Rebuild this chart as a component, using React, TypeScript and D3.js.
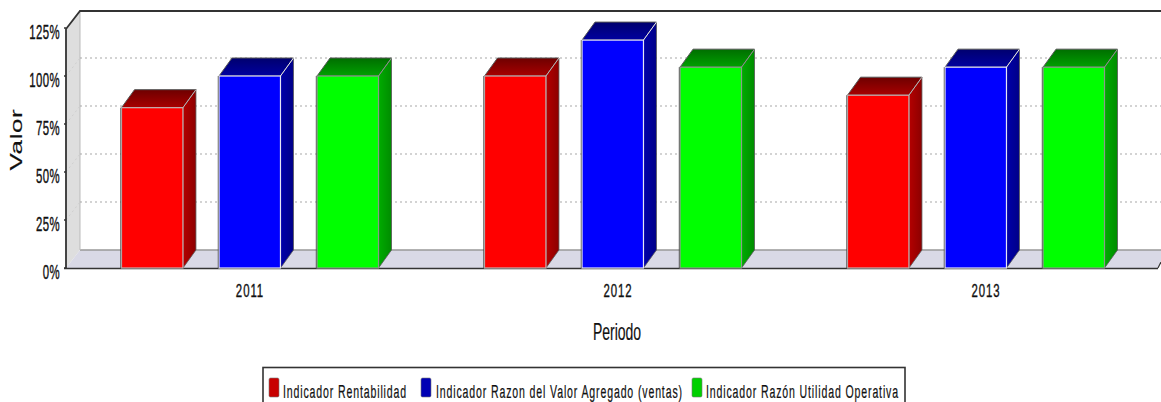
import React from "react";
import * as d3 from "d3";

const periods = ["2011", "2012", "2013"];
const seriesNames = [
  "Indicador Rentabilidad",
  "Indicador Razon del Valor Agregado (ventas)",
  "Indicador Razón Utilidad Operativa",
];
const rentabilidad = [83.5, 100, 90];
const valorAgregado = [100, 118.7, 104.6];
const utilidadOperativa = [100, 104.6, 104.6];
const yTicks = [0, 25, 50, 75, 100, 125];
const faceColors = ["#ff0000", "#0000ff", "#00ff00"];
const sideLight = ["#b40000", "#0000aa", "#00ac00"];
const sideDark = ["#8c0000", "#000088", "#008c00"];
const topLight = ["#a80000", "#0000a0", "#00a000"];
const topDark = ["#6e0000", "#00006e", "#006e00"];
const edgeColors = ["#c4b4b4", "#e6e6f4", "#8a9a8a"];
const legendColors = ["#c80000", "#0000b4", "#00d000"];

const WIDTH = 1161;
const HEIGHT = 402;
const DEPTH_X = 13;
const DEPTH_Y = 18;
const FONT = "'Liberation Sans', Arial, sans-serif";

const y = d3.scaleLinear().domain([0, 125]).range([268, 28]);
// Groups of bars and their labels sit on slightly different spacings in the 3D layout.
const xLabel = d3.scalePoint().domain(periods).range([250, 986]);
const xBar = d3.scaleBand().domain(["0", "1", "2"]).range([121.5, 378]).paddingInner(0.37);
const seriesValues = [rentabilidad, valorAgregado, utilidadOperativa];
const groupStep = 363;

function Squeezed({ x, y: ty, sx, sy, size = 12, anchor = "middle", rotate = 0, spacing = 0, weight = 0.25, children }: any) {
  return (
    <text
      transform={`translate(${x},${ty}) rotate(${rotate}) scale(${sx},${sy})`}
      textAnchor={anchor}
      fontFamily={FONT}
      fontSize={size}
      fill="#111"
      stroke="#111"
      strokeWidth={weight}
      letterSpacing={spacing}
    >
      {children}
    </text>
  );
}

function Bar({ x, w, v, s }: { x: number; w: number; v: number; s: number }) {
  const top = y(v);
  const bottom = y(0);
  const right = x + w;
  const poly = (pts: number[][]) => pts.map((p) => p.join(",")).join(" ");
  return (
    <g>
      <polygon
        points={poly([[x, top], [x + DEPTH_X, top - DEPTH_Y], [right + DEPTH_X, top - DEPTH_Y], [right, top]])}
        fill={`url(#top-${s})`}
        stroke="#555"
        strokeWidth={1}
      />
      <polygon
        points={poly([[right, top], [right + DEPTH_X, top - DEPTH_Y], [right + DEPTH_X, bottom - DEPTH_Y], [right, bottom]])}
        fill={`url(#side-${s})`}
        stroke="#555"
        strokeWidth={0.8}
      />
      <line x1={right} x2={right + DEPTH_X} y1={top} y2={top - DEPTH_Y} stroke={edgeColors[s]} strokeWidth={1} />
      <rect x={x} y={top} width={w} height={bottom - top} fill={faceColors[s]} stroke={edgeColors[s]} strokeWidth={1.2} />
      <line x1={x - 0.8} x2={x - 0.8} y1={top} y2={bottom} stroke="#444" strokeWidth={0.8} />
    </g>
  );
}

export default function App() {
  const floorY = y(0) - DEPTH_Y;
  const left = 66;
  const back = left + DEPTH_X + 1;
  const legendStarts = [283, 436, 706];
  const swatchStarts = [269, 421, 692];
  return (
    <svg
      width={WIDTH}
      height={HEIGHT}
      style={{ position: "absolute", left: 0, top: 0, background: "#fff" }}
    >
      <defs>
        {faceColors.map((_, s) => (
          <React.Fragment key={s}>
            <linearGradient id={`top-${s}`} x1="0" y1="1" x2="0" y2="0">
              <stop offset="0" stopColor={topLight[s]} />
              <stop offset="1" stopColor={topDark[s]} />
            </linearGradient>
            <linearGradient id={`side-${s}`} x1="0" y1="0" x2="1" y2="0">
              <stop offset="0" stopColor={sideLight[s]} />
              <stop offset="1" stopColor={sideDark[s]} />
            </linearGradient>
          </React.Fragment>
        ))}
      </defs>

      {/* side wall and floor of the plot box */}
      <polygon
        points={`${left},${y(125) + 1} ${back},${y(125) - DEPTH_Y + 1} ${back},${floorY} ${left},${y(0)}`}
        fill="#dedede"
      />
      <polygon
        points={`${left},${y(0)} ${back},${floorY} ${WIDTH + 4},${floorY} ${WIDTH - 3},${y(0)}`}
        fill="#d9d9e6"
      />
      <line x1={back} x2={WIDTH} y1={floorY} y2={floorY} stroke="#999" strokeWidth={1.6} />
      <line x1={back} x2={back} y1={y(125) - DEPTH_Y} y2={floorY} stroke="#bbb" strokeWidth={1} />

      {/* dotted gridlines across the back wall */}
      {yTicks.slice(1, 5).map((t) => (
        <g key={t}>
          <line x1={left} x2={back} y1={y(t)} y2={y(t) - DEPTH_Y} stroke="#cfcfcf" strokeWidth={1} strokeDasharray="2 3" />
          <line x1={back} x2={WIDTH} y1={y(t) - DEPTH_Y} y2={y(t) - DEPTH_Y} stroke="#a8a8a8" strokeWidth={1.2} strokeDasharray="2 3" />
        </g>
      ))}

      {/* top and left frame */}
      <polyline
        points={`${left},${y(0)} ${left},${y(125) + 1} ${back},${y(125) - DEPTH_Y + 1} ${WIDTH},${y(125) - DEPTH_Y + 1}`}
        fill="none"
        stroke="#333"
        strokeWidth={1.8}
      />
      <line x1={left - 2} x2={WIDTH - 3} y1={y(0) + 0.5} y2={y(0) + 0.5} stroke="#333" strokeWidth={1.6} />
      <line x1={WIDTH - 3} x2={WIDTH} y1={y(0)} y2={y(0) - 6} stroke="#333" strokeWidth={1.2} />

      {/* y ticks and labels */}
      {yTicks.map((t) => (
        <g key={t}>
          <line x1={left - 2} x2={left} y1={y(t)} y2={y(t)} stroke="#333" strokeWidth={1.4} />
          <Squeezed x={60} y={y(t) + 11} sx={0.95} sy={1.7} anchor="end" spacing={0.4}>{`${t}%`}</Squeezed>
        </g>
      ))}

      {/* bars */}
      {periods.map((p, i) =>
        seriesValues.map((vals, s) => (
          <Bar
            key={`${p}-${s}`}
            x={xBar(String(s))! + i * groupStep + (s === 2 ? 0.5 : 0)}
            w={xBar.bandwidth()}
            v={vals[i]}
            s={s}
          />
        )),
      )}

      {/* category labels */}
      {periods.map((p) => (
        <Squeezed key={p} x={xLabel(p)!} y={297} sx={0.95} sy={1.55} spacing={1}>{p}</Squeezed>
      ))}

      {/* axis titles */}
      <Squeezed x={617} y={340} sx={1.0} sy={1.65} size={14} weight={0.1}>Periodo</Squeezed>
      <Squeezed x={22} y={139.5} sx={2} sy={1.25} size={13} rotate={-90} spacing={0.3} weight={0.1}>Valor</Squeezed>

      {/* legend */}
      <rect x={263} y={367.5} width={642} height={50} fill="#fff" stroke="#333" strokeWidth={1.6} />
      {seriesNames.map((name, i) => (
        <g key={name}>
          <rect x={swatchStarts[i]} y={378} width={10} height={19} rx={1.5} fill={legendColors[i]} stroke="#777" strokeWidth={0.6} />
          <Squeezed x={legendStarts[i]} y={398} sx={0.88} sy={1.6} anchor="start" spacing={0.98} weight={0.15}>{name}</Squeezed>
        </g>
      ))}
    </svg>
  );
}
